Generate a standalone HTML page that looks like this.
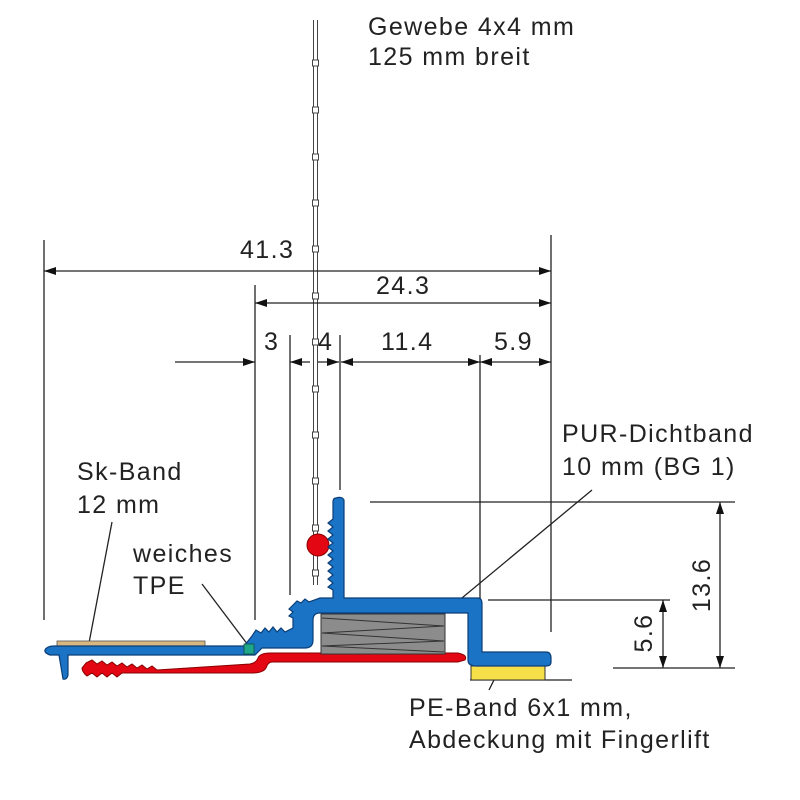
<!DOCTYPE html>
<html><head><meta charset="utf-8"><style>body{margin:0;background:#fff}svg{display:block}text{font-family:"Liberation Sans",sans-serif;fill:#222;font-size:25px;letter-spacing:1.4px}</style></head>
<body>
<svg width="800" height="800" viewBox="0 0 800 800" xmlns="http://www.w3.org/2000/svg">
<defs>
<marker id="a" viewBox="0 0 12 8" refX="12" refY="4" markerWidth="12" markerHeight="8" orient="auto-start-reverse" markerUnits="userSpaceOnUse"><path d="M0,0L12,4L0,8z" fill="#111"/></marker>
</defs>
<g stroke="#444" stroke-width="1" fill="#fff">
<line x1="313.5" y1="20" x2="313.5" y2="585"/>
<line x1="317.5" y1="20" x2="317.5" y2="585"/>
<rect x="312.5" y="60" width="6" height="6"/>
<rect x="312.5" y="107" width="6" height="6"/>
<rect x="312.5" y="154" width="6" height="6"/>
<rect x="312.5" y="200" width="6" height="6"/>
<rect x="312.5" y="246" width="6" height="6"/>
<rect x="312.5" y="293" width="6" height="6"/>
<rect x="312.5" y="339" width="6" height="6"/>
<rect x="312.5" y="386" width="6" height="6"/>
<rect x="312.5" y="432" width="6" height="6"/>
<rect x="312.5" y="478" width="6" height="6"/>
<rect x="312.5" y="525" width="6" height="6"/>
<rect x="312.5" y="570" width="6" height="6"/>
</g>
<g stroke="#222" stroke-width="1.3" fill="none">
<line x1="44" y1="240" x2="44" y2="620"/>
<line x1="551" y1="235" x2="551" y2="632"/>
<line x1="255" y1="285" x2="255" y2="620"/>
<line x1="290" y1="335" x2="290" y2="595"/>
<line x1="340" y1="335" x2="340" y2="490"/>
<line x1="480" y1="355" x2="480" y2="600"/>
<line x1="370" y1="502" x2="735" y2="502"/>
<line x1="488" y1="600" x2="670" y2="600"/>
<line x1="613" y1="668" x2="735" y2="668"/>
<line x1="470" y1="680" x2="572" y2="680"/>
<line x1="44" y1="271" x2="551" y2="271" marker-start="url(#a)" marker-end="url(#a)"/>
<line x1="255" y1="303" x2="551" y2="303" marker-start="url(#a)" marker-end="url(#a)"/>
<line x1="175" y1="362" x2="255" y2="362" marker-end="url(#a)"/>
<line x1="310" y1="362" x2="290" y2="362" marker-end="url(#a)"/>
<line x1="318" y1="362" x2="339" y2="362" marker-end="url(#a)"/>
<line x1="480" y1="362" x2="341" y2="362" marker-start="url(#a)" marker-end="url(#a)"/>
<line x1="480" y1="362" x2="551" y2="362" marker-start="url(#a)" marker-end="url(#a)"/>
<line x1="720" y1="502" x2="720" y2="668" marker-start="url(#a)" marker-end="url(#a)"/>
<line x1="663" y1="600" x2="663" y2="668" marker-start="url(#a)" marker-end="url(#a)"/>
<line x1="112" y1="522" x2="89" y2="643"/>
<line x1="202" y1="584" x2="248" y2="645"/>
<line x1="592" y1="490" x2="427" y2="627"/>
<line x1="498" y1="672" x2="489" y2="690"/>
</g>
<rect x="57" y="641" width="148" height="5" fill="#d9b77f" stroke="#555" stroke-width="0.8"/>
<path d="M86,663 l6,-3 l5,4 l5,-3 l5,4 l5,-3 l5,4 l5,-3 l5,4 l5,-3 l5,4 l5,-3 l5,4 l5,-3 l5,4 L250,664 Q256,663 258,658 Q260,653 270,653 L458,653 Q468,655 465,660 L458,662 L272,662 Q268,662 266,668 Q263,673 252,673 L122,673 l-5,4 l-5,-4 l-5,4 l-5,-4 l-5,4 l-5,-4 l-5,3 Q82,672 82,668 Z" fill="#e30613" stroke="#8a0000" stroke-width="1"/>
<circle cx="318" cy="545" r="11" fill="#e30613" stroke="#8a0000" stroke-width="1"/>
<rect x="321" y="614" width="124" height="40" fill="#8c8c8c" stroke="#333" stroke-width="1"/>
<g stroke="#333" stroke-width="1" fill="none"><path d="M322,618 L444,626 L322,633 L444,641 L322,646 L444,652"/></g>
<rect x="471" y="666" width="74" height="14" fill="#f5e04a" stroke="#333" stroke-width="1"/>
<path d="M336,498 Q342,496 344,500 L344,598 L478,598 Q482,598 482,604 L482,652 L546,652 Q551,652 551,658 L551,662 Q551,666 546,666 L476,666 Q468,666 468,660 L468,613 L320,613 Q313,613 313,620 L313,640 Q313,648 305,648 L262,648 L255,655 L68,655 L68,675 Q67,680 63,679 L59,655 L50,655 Q44,653 45,650 Q47,646 54,646 L244,646 L252,636 L256,630 l5,3 l4,-5 l4,4 l4,-5 l4,5 l4,-4 l4,4 L293,628 L293,618 l-4,-2 l4,-4 l-4,-3 l4,-4 l4,-4 l4,2 l4,-4 l4,3 L320,598 L333,598 L333,590 l-5,-3 l5,-4 l-5,-4 l5,-4 l-5,-4 l5,-4 l-5,-4 l5,-4 l-5,-4 l5,-4 l-5,-4 l5,-4 l-5,-4 l5,-4 l-5,-4 l5,-4 l-5,-4 l5,-4 L333,502 Q333,498 336,498 Z" fill="#1a73c4" stroke="#0b3e78" stroke-width="1.2"/>
<rect x="244" y="644" width="10" height="10" fill="#1fa78a" stroke="#0b5040" stroke-width="0.8"/>
<text x="368" y="35">Gewebe 4x4 mm</text>
<text x="368" y="65">125 mm breit</text>
<text x="240" y="258">41.3</text>
<text x="376" y="294">24.3</text>
<text x="264" y="350">3</text>
<text x="318" y="350">4</text>
<text x="381" y="350">11.4</text>
<text x="494" y="350">5.9</text>
<text x="562" y="442">PUR-Dichtband</text>
<text x="562" y="475">10 mm (BG 1)</text>
<text x="77" y="480">Sk-Band</text>
<text x="77" y="513">12 mm</text>
<text x="133" y="562">weiches</text>
<text x="133" y="594">TPE</text>
<text x="409" y="716">PE-Band 6x1 mm,</text>
<text x="409" y="748">Abdeckung mit Fingerlift</text>
<text transform="translate(710,585) rotate(-90)" text-anchor="middle">13.6</text>
<text transform="translate(652,633) rotate(-90)" text-anchor="middle">5.6</text>
</svg>
</body></html>
